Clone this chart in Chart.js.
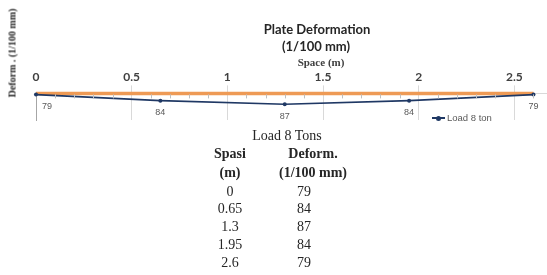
<!DOCTYPE html>
<html><head><meta charset="utf-8">
<script src="https://cdn.jsdelivr.net/npm/chart.js@4"></script>
<style>
html,body{margin:0;padding:0;background:#fff;overflow:hidden;width:547px;height:275px;}
#wrap{position:absolute;left:0;top:0;width:547px;height:275px;overflow:hidden;}
#cbox{position:absolute;left:0;top:0;width:620px;height:124px;}
.t{position:absolute;white-space:nowrap;transform:translate(-50%,-50%);color:#262626;}
.ttl{font:bold 13px Lato,"Liberation Sans",sans-serif;}
.xt{font:bold 11px "Liberation Serif",serif;color:#404040;}
.tab{font:14px "Liberation Serif",serif;}
.tabb{font:bold 14px "Liberation Serif",serif;}
#ytitle{position:absolute;left:12px;top:53px;transform:translate(-50%,-50%) rotate(-90deg);white-space:nowrap;font:bold 10px "Liberation Serif",serif;color:#262626;}
#leg{position:absolute;left:432px;top:112px;font:9.5px "Liberation Sans",sans-serif;color:#595959;white-space:nowrap;}
#leg .ln{display:inline-block;width:13px;height:2px;background:#1F3864;vertical-align:middle;position:relative;margin-right:2px;}
#leg .dt{position:absolute;left:4px;top:-1.5px;width:5px;height:5px;border-radius:50%;background:#1F3864;}
</style></head><body>
<div id="wrap">
<div id="cbox"><canvas id="c" width="620" height="124"></canvas></div>
<div class="t ttl" style="left:317px;top:29px" id="t1"></div>
<div class="t ttl" style="left:316px;top:46px" id="t2"></div>
<div class="t xt" style="left:321px;top:62px" id="xtitle"></div>
<div id="ytitle"></div>
<div id="leg"></div>
<div id="table"></div>
</div>
<script>
// ---- data ----
const spacing = [0, 0.65, 1.3, 1.95, 2.6];
const deform = [79, 84, 87, 84, 79];
const plateX = [0, 2.6];
const plateY = [78, 78];
const xTickValues = [0, 0.5, 1, 1.5, 2, 2.5, 3];
const seriesName = 'Load 8 ton';
const titleLines = ['Plate Deformation', '(1/100 mm)'];
const xTitle = 'Space (m)';
const yTitle = 'Deform . (1/100 mm)';
const tableTitle = 'Load 8 Tons';
const tableHead1 = ['Spasi', '(m)'];
const tableHead2 = ['Deform.', '(1/100 mm)'];

// ---- html text ----
document.getElementById('t1').textContent = titleLines[0];
document.getElementById('t2').textContent = titleLines[1];
document.getElementById('xtitle').textContent = xTitle;
document.getElementById('ytitle').textContent = yTitle;
const leg = document.getElementById('leg');
leg.innerHTML = '<span class="ln"><span class="dt"></span></span>';
leg.appendChild(document.createTextNode(seriesName));

const tbl = document.getElementById('table');
function addText(txt, x, y, cls) {
  const d = document.createElement('div');
  d.className = 't ' + cls;
  d.style.left = x + 'px'; d.style.top = y + 'px';
  d.textContent = txt;
  tbl.appendChild(d);
}
addText(tableTitle, 287, 136, 'tab');
addText(tableHead1[0], 230, 154, 'tabb');
addText(tableHead1[1], 230, 172.7, 'tabb');
addText(tableHead2[0], 313, 154, 'tabb');
addText(tableHead2[1], 313, 172.7, 'tabb');
spacing.forEach((s, i) => {
  addText(String(s), 230, 191.5 + i * 17.8, 'tab');
  addText(String(deform[i]), 304, 191.5 + i * 17.8, 'tab');
});

// ---- plugins ----
const minorTicks = {
  id: 'minorTicks',
  afterDatasetsDraw(chart) {
    const xs = chart.scales.x, ca = chart.chartArea, ctx = chart.ctx;
    ctx.save();
    ctx.strokeStyle = '#BFBFBF'; ctx.lineWidth = 1;
    for (let k = 1; k < 30; k++) {
      if (k % 5 === 0) continue;
      const px = Math.round(xs.getPixelForValue(k / 10)) + 0.5;
      ctx.beginPath(); ctx.moveTo(px, ca.top + 1); ctx.lineTo(px, ca.top + 5); ctx.stroke();
    }
    ctx.restore();
  }
};
const pointLabels = {
  id: 'pointLabels',
  afterDatasetsDraw(chart) {
    const meta = chart.getDatasetMeta(0), ctx = chart.ctx;
    ctx.save();
    ctx.font = '9px "Liberation Sans", sans-serif';
    ctx.fillStyle = '#595959';
    ctx.textBaseline = 'middle';
    meta.data.forEach((pt, i) => {
      const first = i === 0;
      ctx.textAlign = first ? 'left' : 'center';
      ctx.fillText(String(deform[i]), pt.x + (first ? 6 : 0), pt.y + 12);
    });
    ctx.restore();
  }
};

const gridCol = ctx => (ctx.tick && ctx.tick.value === 0) ? 'rgba(0,0,0,0)' : '#D9D9D9';

new Chart(document.getElementById('c'), {
  type: 'line',
  data: {
    datasets: [
      {
        label: seriesName,
        data: spacing.map((x, i) => ({x: x, y: deform[i]})),
        borderColor: '#1F3864', backgroundColor: '#1F3864',
        borderWidth: 1.6, pointRadius: 2, pointBorderWidth: 0,
        pointBackgroundColor: '#1F3864', tension: 0, order: 0, clip: 6
      },
      {
        label: 'plate',
        data: plateX.map((x, i) => ({x: x, y: plateY[i]})),
        borderColor: '#EE9A55', borderWidth: 3.5, pointRadius: 0,
        tension: 0, order: 1, clip: 6
      }
    ]
  },
  options: {
    responsive: false,
    animation: false,
    layout: {padding: {left: 36, right: 10, top: 69, bottom: 4}},
    plugins: {legend: {display: false}, tooltip: {enabled: false}, title: {display: false}},
    scales: {
      x: {
        type: 'linear', position: 'top', min: 0, max: 3,
        afterBuildTicks: s => { s.ticks = xTickValues.map(v => ({value: v})); },
        ticks: {
          font: {family: 'Lato', size: 12, weight: 'bold'}, color: '#404040',
          padding: 1, maxRotation: 0, autoSkip: false, callback: v => String(v)
        },
        grid: {color: gridCol, tickColor: gridCol, tickLength: 8, lineWidth: 1},
        border: {display: true, color: '#D9D9D9', width: 1},
        title: {display: false}
      },
      y: {
        type: 'linear', reverse: true, min: 78, max: 100,
        ticks: {display: false},
        grid: {drawOnChartArea: false, drawTicks: false},
        border: {display: true, color: '#A6A6A6', dash: [1, 2], width: 1}
      }
    }
  },
  plugins: [minorTicks, pointLabels]
});
</script>
</body></html>
